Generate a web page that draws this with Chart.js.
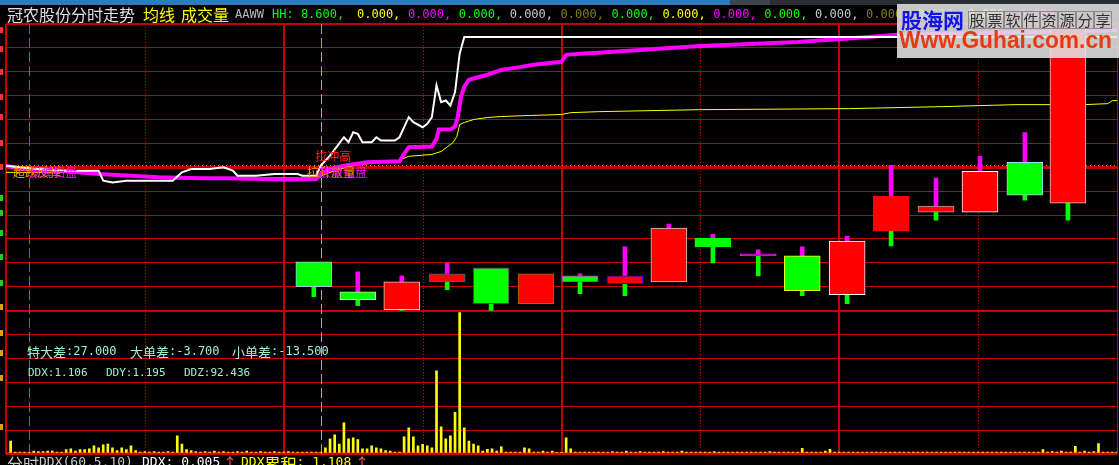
<!DOCTYPE html>
<html>
<head>
<meta charset="utf-8">
<script src="https://cdn.jsdelivr.net/npm/chart.js@4/dist/chart.umd.min.js"></script>
<style>
html, body { margin: 0; padding: 0; background: #000; overflow: hidden; }
canvas { display: block; }
</style>
</head>
<body>
<canvas id="chart" width="1119" height="465"></canvas>
<script>
// 冠农股份 分时 (minutes after the open, 0..240)
const prevClose = 7.82;
const rowStep = 0.1429;            // price per grid row

// white: last price
const priceMinutes = [0, 3, 7, 12, 20, 21, 23, 26, 36, 38, 40, 44, 47, 49, 50, 54, 58, 63, 64, 67, 68, 70, 73, 74, 75, 76, 77, 79, 80, 81, 84, 85, 87, 88, 90, 91, 92, 93, 94, 95, 96, 97, 98, 99, 240];
const price = [7.83, 7.82, 7.81, 7.80, 7.80, 7.74, 7.73, 7.74, 7.74, 7.79, 7.81, 7.81, 7.82, 7.80, 7.77, 7.77, 7.78, 7.78, 7.77, 7.77, 7.83, 7.89, 8.00, 7.97, 8.03, 8.02, 7.97, 7.97, 8.00, 7.98, 7.98, 8.00, 8.12, 8.09, 8.06, 8.08, 8.12, 8.31, 8.21, 8.22, 8.19, 8.27, 8.50, 8.60, 8.60];

// magenta: 均线
const maMinutes = [0, 3, 12, 20, 27, 33, 42, 48, 55, 61, 67, 68, 70, 73, 78, 85, 86, 87, 92, 93, 93.5, 96, 97, 97.6, 98.3, 99, 100, 104, 107, 110, 114, 118, 120, 121, 124, 128, 150, 171, 182, 192, 240];
const maLine = [7.83, 7.81, 7.80, 7.78, 7.77, 7.76, 7.755, 7.755, 7.75, 7.745, 7.75, 7.78, 7.81, 7.83, 7.85, 7.856, 7.90, 7.94, 7.945, 7.99, 8.046, 8.046, 8.064, 8.124, 8.243, 8.302, 8.344, 8.374, 8.403, 8.415, 8.433, 8.445, 8.451, 8.493, 8.499, 8.505, 8.546, 8.570, 8.590, 8.612, 8.64];

// yellow: average price
const avgMinutes = [0, 12, 20, 27, 42, 67, 70, 74, 79, 85, 87, 92, 94, 96.6, 97.4, 98, 99, 101, 104, 107, 113, 120, 122, 128, 150, 182, 202, 218, 233, 238, 239, 240];
const avgPrice = [7.79, 7.79, 7.778, 7.766, 7.76, 7.755, 7.79, 7.826, 7.844, 7.862, 7.886, 7.897, 7.915, 7.969, 8.005, 8.076, 8.088, 8.106, 8.118, 8.124, 8.130, 8.136, 8.147, 8.153, 8.165, 8.171, 8.183, 8.195, 8.195, 8.201, 8.219, 8.219];

// per-minute volume (手)
const volume = [
  0, 135, 20, 20, 20, 15, 30, 25, 25, 30,
  30, 20, 20, 45, 55, 30, 45, 45, 55, 85,
  65, 95, 105, 65, 35, 65, 45, 85, 35, 20,
  25, 20, 25, 20, 20, 25, 20, 190, 105, 45,
  35, 25, 20, 25, 20, 30, 20, 25, 20, 20,
  25, 20, 30, 20, 20, 25, 20, 20, 25, 20,
  20, 25, 20, 20, 20, 20, 20, 20, 20, 65,
  160, 200, 105, 325, 160, 170, 150, 55, 55, 85,
  65, 55, 35, 30, 20, 20, 180, 275, 180, 85,
  100, 85, 65, 870, 285, 160, 190, 435, 1480, 275,
  135, 105, 85, 30, 50, 55, 30, 75, 20, 20,
  20, 20, 65, 55, 20, 20, 30, 20, 30, 15,
  15, 170, 55, 20, 20, 20, 20, 20, 20, 20,
  20, 25, 20, 20, 30, 20, 20, 25, 20, 20,
  20, 20, 25, 20, 20, 20, 30, 20, 20, 20,
  20, 20, 20, 25, 20, 20, 20, 20, 20, 20,
  20, 20, 20, 20, 20, 25, 20, 20, 20, 20,
  20, 20, 60, 20, 20, 20, 20, 30, 50, 20,
  20, 20, 20, 20, 20, 20, 20, 20, 20, 20,
  20, 20, 20, 20, 20, 20, 20, 20, 20, 20,
  20, 20, 20, 20, 20, 20, 20, 20, 20, 20,
  20, 20, 20, 20, 20, 20, 20, 20, 20, 20,
  20, 20, 20, 20, 45, 20, 25, 20, 30, 20,
  20, 80, 20, 30, 20, 25, 110, 20, 20, 20,
  20
];

// DDX stick bars
const candleMinutes = [66.5, 76.0, 85.5, 95.3, 104.8, 114.5, 124.0, 133.7, 143.2, 152.7, 162.5, 172.0, 181.7, 191.2, 200.9, 210.4, 220.1, 229.4];
const candleOpen  = [7.254, 7.076, 6.969, 7.135, 7.219, 7.004, 7.171, 7.123, 7.135, 7.397, 7.302, 7.290, 7.058, 7.439, 7.552, 7.552, 7.850, 7.606];
const candleHigh  = [7.254, 7.195, 7.171, 7.248, 7.219, 7.183, 7.183, 7.344, 7.481, 7.421, 7.326, 7.344, 7.409, 7.832, 7.755, 7.886, 8.028, 8.654];
const candleLow   = [7.046, 6.992, 6.963, 7.088, 6.957, 7.004, 7.064, 7.052, 7.135, 7.248, 7.171, 7.052, 7.004, 7.350, 7.504, 7.552, 7.624, 7.504];
const candleClose = [7.106, 7.028, 7.135, 7.183, 7.004, 7.183, 7.135, 7.171, 7.457, 7.344, 7.290, 7.082, 7.379, 7.647, 7.588, 7.796, 7.653, 8.654];

// edge colours of the stick bodies
const candleEdge = ['#a8c8e8', '#c8e8c8', '#d0d0d0', '#008080', '#800080', '#808000', '#ff00ff', '#0000ff', '#c8c8c8', '#00ff00', '#ff00ff', '#ffff00', '#ffffff', '#ff0000', '#a0a0a0', '#ffffff', '#a0d8f0', '#d0d0d0'];

const RED_GRID = '#c80000';
const pts = (xs, ys) => xs.map((x, i) => ({ x: x, y: ys[i] }));
const tv = c => (c.tick ? c.tick.value : NaN);

const bodies = candleMinutes.map((m, i) => ({ x: m, y: [candleOpen[i], candleClose[i]] }));
const upperWicks = candleMinutes.map((m, i) => {
  const top = Math.max(candleOpen[i], candleClose[i]);
  return candleHigh[i] > top ? { x: m, y: [top, candleHigh[i]] } : null;
}).filter(Boolean);
const lowerWicks = candleMinutes.map((m, i) => {
  const bot = Math.min(candleOpen[i], candleClose[i]);
  return candleLow[i] < bot ? { x: m, y: [candleLow[i], bot] } : null;
}).filter(Boolean);

function bodyColor(i) {
  const d = candleClose[i] - candleOpen[i];
  if (Math.abs(d) < 0.015) return '#ff00ff';
  return d > 0 ? '#ff0000' : '#00ff00';
}

function seg(ctx, parts, x, y) {
  // parts: [text, colour, font, x?]
  parts.forEach(p => {
    ctx.font = p[2];
    ctx.fillStyle = p[1];
    const px = p[3] !== undefined ? p[3] : x;
    ctx.fillText(p[0], px, y);
    x = px + ctx.measureText(p[0]).width;
  });
}

const CJK = '"Noto Sans CJK SC"';
const MONO = '"DejaVu Sans Mono"';

const overlay = {
  id: 'overlay',
  beforeDatasetsDraw(chart) {
    const { ctx, chartArea: a, scales: { x, y } } = chart;
    ctx.save();
    // half-hour dotted lines
    ctx.strokeStyle = RED_GRID;
    ctx.lineWidth = 1;
    ctx.setLineDash([1, 2]);
    [30, 90, 150, 210].forEach(m => {
      const px = Math.round(x.getPixelForValue(m)) + 0.5;
      ctx.beginPath(); ctx.moveTo(px, a.top); ctx.lineTo(px, a.bottom); ctx.stroke();
    });
    // signal markers
    ctx.setLineDash([10, 4]);
    [[5, '#ff00ff'], [68, '#ff9900']].forEach(s => {
      const px = Math.round(x.getPixelForValue(s[0])) + 0.5;
      ctx.strokeStyle = s[1];
      ctx.beginPath(); ctx.moveTo(px, a.top); ctx.lineTo(px, a.bottom); ctx.stroke();
    });
    // dotted green over the previous-close line
    const y0 = Math.round(y.getPixelForValue(prevClose)) - 1.5;
    ctx.strokeStyle = '#00ff00';
    ctx.setLineDash([1, 3]);
    ctx.beginPath(); ctx.moveTo(a.left, y0); ctx.lineTo(a.right, y0); ctx.stroke();
    ctx.restore();
  },
  afterDraw(chart) {
    const { ctx, scales: { x, y } } = chart;
    ctx.save();
    ctx.textBaseline = 'middle';

    // window strip on top
    ctx.fillStyle = '#2b7bbd'; ctx.fillRect(0, 0, 730, 5);
    ctx.fillStyle = '#3c444c'; ctx.fillRect(730, 0, 40, 5);
    ctx.fillStyle = '#2a2e33'; ctx.fillRect(770, 0, 349, 5);

    // title row
    seg(ctx, [
      ['冠农股份分时走势', '#e0e0e0', '16px ' + CJK, 7],
      ['均线', '#ffff00', '16px ' + CJK, 143],
      ['成交量', '#ffff00', '16px ' + CJK, 181],
      ['AAWW', '#b8b8b8', '12px ' + MONO, 235],
      ['HH: 8.600,', '#00ff00', '12px ' + MONO, 272]
    ], 0, 15);
    const hhCols = ['#ffff00', '#ff00ff', '#00ff00', '#c8c8c8', '#808000', '#00ff00'];
    ctx.font = '12px ' + MONO;
    for (let i = 0; i < 14; i++) {
      ctx.fillStyle = hhCols[i % 6];
      ctx.fillText('0.000,', 357 + i * 50.9, 15);
    }

    // truncated price labels on the left edge
    [30, 49, 72, 97, 117, 143, 167].forEach(py => { ctx.fillStyle = '#ff3030'; ctx.fillRect(0, py - 3, 3, 6); });
    [198, 213, 233, 257, 283].forEach(py => { ctx.fillStyle = '#20d020'; ctx.fillRect(0, py - 3, 3, 6); });
    [307, 333, 353, 378, 427].forEach(py => { ctx.fillStyle = '#e0a000'; ctx.fillRect(0, py - 3, 3, 6); });

    // signal words on the chart
    ctx.font = '12px ' + CJK;
    const txt = (s, c, m, p) => { ctx.fillStyle = c; ctx.fillText(s, x.getPixelForValue(m), y.getPixelForValue(p)); };
    txt('超跌反弹', '#ff9900', 1.5, 7.79);
    txt('反弹扫盘', '#ff00ff', 5.0, 7.79);
    txt('拉冲高', '#ff2020', 66.8, 7.885);
    txt('拉升放量', '#ff9900', 65.0, 7.79);
    txt('放量扫盘', '#ff00ff', 67.6, 7.79);

    // indicator readouts in the lower pane
    const teal = '#a0f0d0';
    seg(ctx, [
      ['特大差', teal, '13px ' + CJK, 27], [':27.000', teal, '12px ' + MONO],
      ['大单差', teal, '13px ' + CJK, 130], [':-3.700', teal, '12px ' + MONO],
      ['小单差', teal, '13px ' + CJK, 232], [':-13.500', teal, '12px ' + MONO]
    ], 0, 352);
    ctx.font = '11px ' + MONO;
    ctx.fillStyle = teal;
    ctx.fillText('DDX:1.106', 28, 373);
    ctx.fillText('DDY:1.195', 106, 373);
    ctx.fillText('DDZ:92.436', 184, 373);

    // bottom row, cut by the window edge
    ctx.textBaseline = 'top';
    seg(ctx, [
      ['分时', '#c8c8c8', '16px ' + CJK, 7],
      ['DDX(60,5,10)', '#c8c8c8', '13px ' + MONO],
      ['DDX: 0.005', '#ffffff', '13px ' + MONO, 142],
      ['↑', '#ff6060', '14px ' + CJK, 223],
      ['DDX', '#ffff00', '13px ' + MONO, 241],
      ['累积', '#ffff00', '16px ' + CJK],
      [': 1.108', '#ffff00', '13px ' + MONO],
      ['↑', '#ff6060', '14px ' + CJK, 355]
    ], 0, 456);

    // watermark
    ctx.textBaseline = 'middle';
    ctx.fillStyle = 'rgba(226,226,226,0.88)';
    ctx.fillRect(897, 4, 222, 54);
    ctx.font = 'bold 21px ' + CJK;
    ctx.fillStyle = '#1414ee';
    ctx.fillText('股海网', 901, 20);
    ctx.font = '15px ' + CJK;
    ctx.strokeStyle = '#8a8a8a';
    ctx.lineWidth = 1;
    '股票软件资源分享'.split('').forEach((ch, i) => {
      const bx = 968 + i * 18;
      ctx.strokeRect(bx + 0.5, 11.5, 17, 17);
      ctx.fillStyle = '#303030';
      ctx.fillText(ch, bx + 1.5, 20);
    });
    ctx.font = 'bold 23px "Liberation Sans"';
    ctx.fillStyle = '#e83a12';
    ctx.fillText('Www.Guhai.com.cn', 899, 42, 213);
    ctx.restore();
  }
};

new Chart(document.getElementById('chart'), {
  type: 'bar',
  data: {
    datasets: [
      {
        type: 'line', label: '现价', data: pts(priceMinutes, price), yAxisID: 'y',
        borderColor: '#ffffff', borderWidth: 2, pointRadius: 0, order: 2
      },
      {
        type: 'line', label: '均线', data: pts(maMinutes, maLine), yAxisID: 'y',
        borderColor: '#ff00ff', borderWidth: 4, pointRadius: 0, order: 3
      },
      {
        type: 'line', label: '均价', data: pts(avgMinutes, avgPrice), yAxisID: 'y',
        borderColor: '#ffff00', borderWidth: 1, pointRadius: 0, order: 4
      },
      {
        label: '上影', data: upperWicks, yAxisID: 'y', grouped: false, barThickness: 4,
        backgroundColor: '#ff00ff', borderWidth: 0, order: 1
      },
      {
        label: '下影', data: lowerWicks, yAxisID: 'y', grouped: false, barThickness: 4,
        backgroundColor: '#00ff00', borderWidth: 0, order: 1
      },
      {
        label: '柱体', data: bodies, yAxisID: 'y', grouped: false, barThickness: 36,
        backgroundColor: c => bodyColor(c.dataIndex),
        borderColor: c => candleEdge[c.dataIndex],
        borderWidth: 1, borderSkipped: false, order: 0
      },
      {
        label: '成交量', data: volume.map((v, m) => ({ x: m, y: v })), yAxisID: 'yV',
        grouped: false, barThickness: 2, backgroundColor: '#ffff00', borderWidth: 0, order: 5
      }
    ]
  },
  options: {
    responsive: false,
    animation: false,
    events: [],
    layout: { padding: { left: 6, top: 24, right: 2, bottom: 11 } },
    plugins: { legend: { display: false }, tooltip: { enabled: false } },
    scales: {
      x: {
        type: 'linear', min: 0, max: 240, offset: false,
        ticks: { display: false, stepSize: 30 },
        border: { display: false },
        grid: {
          offset: false,
          drawTicks: false,
          color: c => (tv(c) % 60 === 0 || tv(c) === 240) ? RED_GRID : 'rgba(0,0,0,0)',
          lineWidth: c => (tv(c) === 0 || (tv(c) % 60 === 0 && tv(c) !== 240)) ? 2 : 1
        }
      },
      yV: {
        type: 'linear', position: 'left', stack: 'pane', stackWeight: 1,
        min: 0, max: 1500,
        ticks: { display: false, stepSize: 250 },
        border: { display: false },
        grid: {
          drawTicks: false, color: RED_GRID,
          lineWidth: c => tv(c) === 0 ? 3 : (tv(c) === 1500 ? 2 : 1)
        }
      },
      y: {
        type: 'linear', position: 'left', stack: 'pane', stackWeight: 2,
        min: prevClose - 6 * rowStep, max: prevClose + 6 * rowStep,
        afterBuildTicks: axis => {
          const t = [];
          for (let k = -6; k <= 6; k++) t.push({ value: prevClose + k * rowStep });
          axis.ticks = t;
        },
        ticks: { display: false },
        border: { display: false },
        grid: {
          drawTicks: false, color: RED_GRID,
          lineWidth: c => {
            const k = Math.round((tv(c) - prevClose) / rowStep);
            return k === 0 ? 3 : (Math.abs(k) === 6 ? 2 : 1);
          }
        }
      }
    }
  },
  plugins: [overlay]
});
</script>
</body>
</html>
